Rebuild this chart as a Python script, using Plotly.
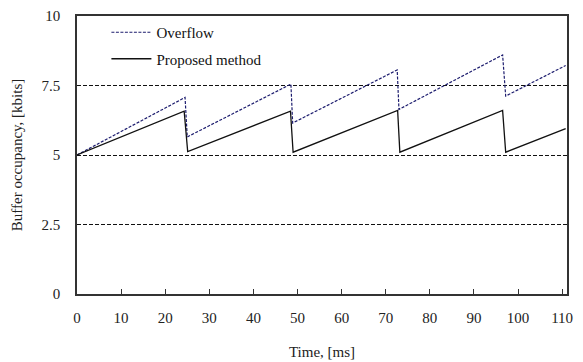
import plotly.graph_objects as go

# Time axis (ms) and buffer occupancy (kbits)
overflow_x = [0, 24.5, 25.0, 48.5, 48.9, 72.6, 73.0, 96.5, 97.2, 110.8]
overflow_y = [5.0, 7.07, 5.65, 7.55, 6.15, 8.06, 6.64, 8.6, 7.12, 8.22]

proposed_x = [0, 24.3, 25.1, 48.4, 49.0, 72.7, 73.2, 96.5, 97.2, 110.8]
proposed_y = [5.0, 6.58, 5.12, 6.58, 5.1, 6.6, 5.1, 6.6, 5.1, 5.95]

x_ticks = [0, 10, 20, 30, 40, 50, 60, 70, 80, 90, 100, 110]
y_ticks = [0, 2.5, 5, 7.5, 10]
y_tick_labels = ["0", "2.5", "5", "7.5", "10"]

FONT = "Liberation Serif"
FS = 15

fig = go.Figure()
fig.add_trace(go.Scatter(
    x=overflow_x, y=overflow_y, mode="lines", name="Overflow",
    legendgroup="a",
    line=dict(color="#1c1c6e", width=1.2, dash="3px,1.5px"),
))
fig.add_trace(go.Scatter(
    x=proposed_x, y=proposed_y, mode="lines", name="Proposed method",
    legendgroup="b",
    line=dict(color="#111111", width=1.3),
))

fig.update_layout(
    width=583, height=362,
    margin=dict(l=77, r=16, t=16, b=68),
    paper_bgcolor="white", plot_bgcolor="white",
    font=dict(family=FONT, size=FS, color="#222222"),
    showlegend=True,
    legend=dict(
        x=0.06, y=1.0, xanchor="left", yanchor="top",
        bgcolor="rgba(0,0,0,0)", traceorder="grouped", tracegroupgap=4,
        font=dict(family=FONT, size=FS, color="#111111"),
        itemwidth=40,
    ),
    xaxis=dict(
        range=[0, 111.1], tickvals=x_ticks, automargin=False,
        ticks="inside", ticklen=5, tickcolor="#333333",
        showline=True, linecolor="#333333", linewidth=1.5, mirror=True,
        showgrid=False, zeroline=False,
        title=dict(text="Time, [ms]", font=dict(family=FONT, size=FS), standoff=22),
        tickfont=dict(family=FONT, size=FS), ticklabelstandoff=9,
    ),
    yaxis=dict(
        range=[0, 10], tickvals=y_ticks, ticktext=y_tick_labels, automargin=False,
        ticks="", showline=True, linecolor="#333333", linewidth=1.5, mirror=True,
        showgrid=True, gridcolor="#111111", gridwidth=1, griddash="4px,2px",
        zeroline=False, ticklabelstandoff=12,
        title=dict(text="Buffer occupancy, [kbits]", font=dict(family=FONT, size=FS)),
        tickfont=dict(family=FONT, size=FS),
    ),
)

fig.write_html(
    "out.html",
    config={"displayModeBar": False},
    post_script="document.body.style.margin='0';document.body.style.overflow='hidden';",
)
